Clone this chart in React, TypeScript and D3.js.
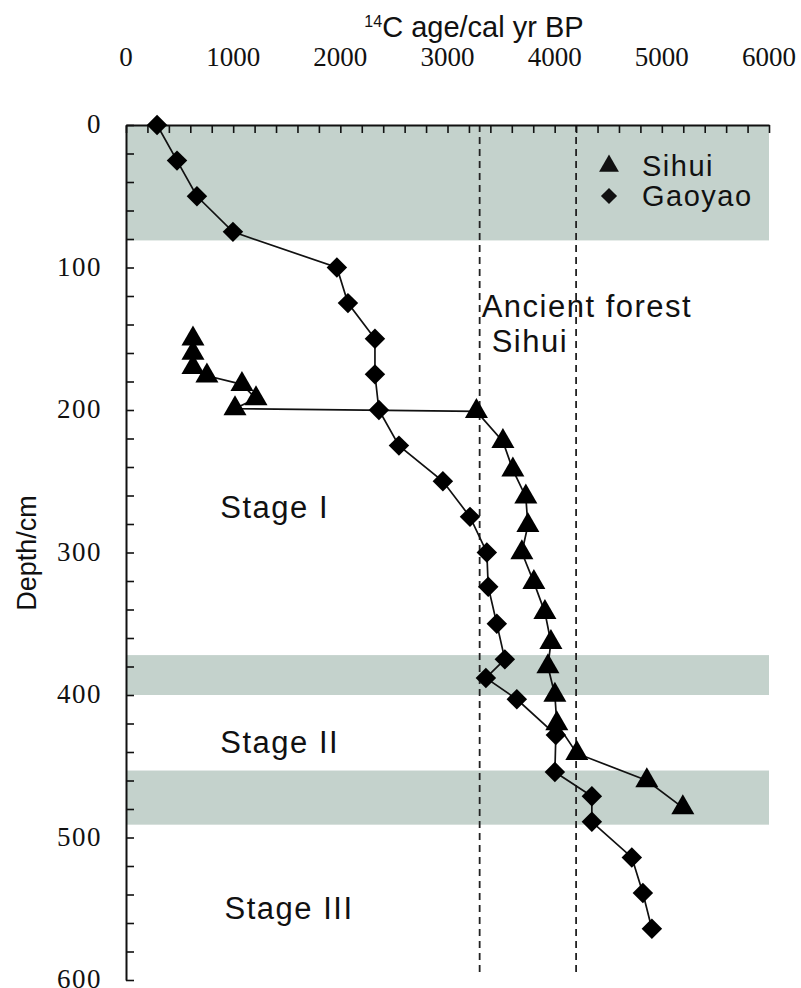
import React, { useEffect, useRef } from 'react';
import * as d3 from 'd3';

// age (cal yr BP) / depth (cm)
const sihuiAge = [625, 625, 625, 755, 1082, 1213, 1017, 3270, 3517, 3610, 3731, 3750, 3694, 3806, 3909, 3965, 3937, 4002, 4020, 4207, 4860, 5196];
const sihuiDepth = [150, 160, 170, 176, 182, 192, 199, 201, 222, 242, 261, 281, 300, 321, 342, 363, 380, 400, 420, 441, 460, 479];

const gaoyaoAge = [290, 476, 662, 998, 1968, 2071, 2323, 2323, 2360, 2547, 2957, 3210, 3367, 3380, 3460, 3535, 3358, 3647, 4011, 4002, 4347, 4347, 4720, 4823, 4907];
const gaoyaoDepth = [0, 25, 50, 75, 100, 125, 150, 175, 200, 225, 250, 275, 300, 324, 350, 375, 388, 403, 428, 454, 471, 489, 514, 539, 564];

const ageTicks = [0, 1000, 2000, 3000, 4000, 5000, 6000];
const depthTicks = [0, 100, 200, 300, 400, 500, 600];

// shaded depth bands
const bands: [number, number][] = [[0, 81], [372, 400], [453, 491]];
// ancient forest age window
const forestAges = [3300, 4200];

const stages = [
  { label: 'Stage I', depth: 276, age: 880 },
  { label: 'Stage II', depth: 441, age: 880 },
  { label: 'Stage III', depth: 557, age: 920 },
];

const W = 801;
const H = 988;
const SANS = '"Liberation Sans", Arial, sans-serif';
const SERIF = '"Liberation Serif", "Times New Roman", serif';

export default function App() {
  const svgRef = useRef<SVGSVGElement>(null);

  useEffect(() => {
    if (!svgRef.current) return;
    const svg = d3.select(svgRef.current);
    svg.selectAll('*').remove();

    const x = d3.scaleLinear().domain([0, 6000]).range([126, 769]);
    const y = d3.scaleLinear().domain([0, 600]).range([125, 980]);

    svg.append('rect').attr('width', W).attr('height', H).attr('fill', '#fff');

    // bands
    svg.append('g').selectAll('rect').data(bands).join('rect')
      .attr('x', x(0))
      .attr('y', d => y(d[0]))
      .attr('width', x(6000) - x(0))
      .attr('height', d => y(d[1]) - y(d[0]))
      .attr('fill', '#c4d2cc');

    // dashed age lines
    svg.append('g').selectAll('line').data(forestAges).join('line')
      .attr('x1', d => x(d)).attr('x2', d => x(d))
      .attr('y1', y(0)).attr('y2', y(597))
      .attr('stroke', '#222').attr('stroke-width', 1.8)
      .attr('stroke-dasharray', '7,5');

    // axes (ticks only, labels drawn below)
    const topAxis = svg.append('g')
      .attr('transform', `translate(0,${y(0)})`)
      .call(d3.axisTop(x)
        .tickValues(d3.range(0, 6001, 200))
        .tickSize(-8).tickSizeOuter(0).tickFormat(() => ''));
    const leftAxis = svg.append('g')
      .attr('transform', `translate(${x(0)},0)`)
      .call(d3.axisLeft(y)
        .tickValues(d3.range(0, 601, 20))
        .tickSize(-8).tickSizeOuter(0).tickFormat(() => ''));
    [topAxis, leftAxis].forEach(a => {
      a.select('.domain').attr('stroke', '#111').attr('stroke-width', 2);
      a.selectAll('.tick line').attr('stroke', '#111').attr('stroke-width', 1.6);
    });

    svg.append('g').selectAll('text').data(ageTicks).join('text')
      .attr('x', d => x(d))
      .attr('y', 66)
      .attr('text-anchor', 'middle')
      .attr('font-family', SERIF).attr('font-size', 27).attr('fill', '#111')
      .text(d => String(d));
    svg.append('g').selectAll('text').data(depthTicks).join('text')
      .attr('x', 102)
      .attr('y', d => y(d) + 8)
      .attr('text-anchor', 'end')
      .attr('font-family', SERIF).attr('font-size', 27).attr('letter-spacing', 1.5).attr('fill', '#111')
      .text(d => String(d));

    // line + marker series
    const line = d3.line<[number, number]>().x(d => x(d[0])).y(d => y(d[1]));
    const sihui = sihuiAge.map((a, i) => [a, sihuiDepth[i]] as [number, number]);
    const gaoyao = gaoyaoAge.map((a, i) => [a, gaoyaoDepth[i]] as [number, number]);

    [sihui, gaoyao].forEach(s => {
      svg.append('path').datum(s).attr('d', line)
        .attr('fill', 'none').attr('stroke', '#111').attr('stroke-width', 1.7);
    });

    const tri = d3.symbol().type(d3.symbolTriangle).size(230)();
    const dia = d3.symbol().type(d3.symbolSquare).size(210)();

    svg.append('g').selectAll('path').data(sihui).join('path')
      .attr('d', tri)
      .attr('transform', d => `translate(${x(d[0])},${y(d[1])})`)
      .attr('fill', '#000');
    svg.append('g').selectAll('path').data(gaoyao).join('path')
      .attr('d', dia)
      .attr('transform', d => `translate(${x(d[0])},${y(d[1])}) rotate(45)`)
      .attr('fill', '#000');

    const textStyle = (s: d3.Selection<SVGGElement, unknown, null, undefined>, size = 31) =>
      s.attr('font-family', SANS).attr('font-size', size).attr('letter-spacing', 1.5).attr('fill', '#111');

    // legend
    const lg = svg.append('g').call(textStyle, 29);
    lg.append('path').attr('d', d3.symbol().type(d3.symbolTriangle).size(170)())
      .attr('transform', 'translate(609,166)');
    lg.append('text').attr('x', 642).attr('y', 176).text('Sihui');
    lg.append('path').attr('d', d3.symbol().type(d3.symbolSquare).size(130)())
      .attr('transform', 'translate(609,196) rotate(45)');
    lg.append('text').attr('x', 642).attr('y', 206).text('Gaoyao');

    // annotations
    const ann = svg.append('g').call(textStyle, 31);
    ann.append('text').attr('x', x(3300) + 2).attr('y', 317).text('Ancient forest');
    ann.append('text').attr('x', x(3300) + 12).attr('y', 352).text('Sihui');
    ann.selectAll('text.stage').data(stages).join('text')
      .attr('class', 'stage')
      .attr('x', d => x(d.age))
      .attr('y', d => y(d.depth))
      .text(d => d.label);

    // titles
    const t = svg.append('text').attr('x', 474).attr('y', 37)
      .attr('text-anchor', 'middle')
      .attr('font-family', SANS).attr('font-size', 29).attr('fill', '#111');
    t.append('tspan').attr('font-size', 16).attr('dy', -10).text('14');
    t.append('tspan').attr('dy', 10).text('C age/cal yr BP');

    svg.append('text')
      .attr('transform', `translate(36,${553}) rotate(-90)`)
      .attr('text-anchor', 'middle')
      .attr('font-family', SANS).attr('font-size', 27).attr('fill', '#111')
      .text('Depth/cm');
  }, []);

  return (
    <svg ref={svgRef} width={W} height={H}
      style={{ position: 'absolute', left: 0, top: 0, display: 'block' }} />
  );
}
